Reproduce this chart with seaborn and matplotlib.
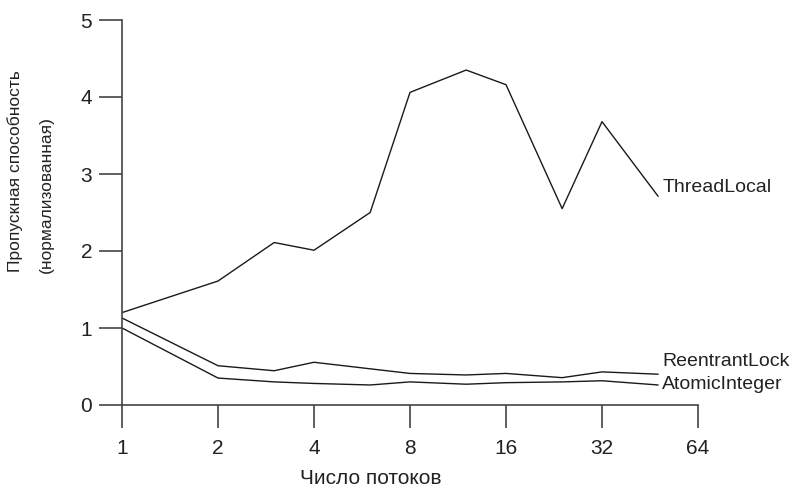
import pandas as pd
import seaborn as sns
import matplotlib
matplotlib.use('Agg')
import matplotlib.pyplot as plt

# values
threads = [1, 2, 3, 4, 6, 8, 12, 16, 24, 32, 48]
thread_local = [1.20, 1.61, 2.11, 2.01, 2.50, 4.06, 4.35, 4.16, 2.55, 3.68, 2.71]
reentrant_lock = [1.13, 0.51, 0.445, 0.555, 0.47, 0.41, 0.39, 0.41, 0.355, 0.43, 0.40]
atomic_integer = [1.00, 0.35, 0.30, 0.28, 0.26, 0.30, 0.27, 0.29, 0.30, 0.315, 0.26]
series_names = ['ThreadLocal', 'ReentrantLock', 'AtomicInteger']
x_ticks = [1, 2, 4, 8, 16, 32, 64]
y_ticks = [0, 1, 2, 3, 4, 5]

df = pd.DataFrame({
    'threads': threads * 3,
    'value': thread_local + reentrant_lock + atomic_integer,
    'series': [n for n in series_names for _ in threads],
})

sns.set_style('white')
plt.rcParams['font.family'] = ['Liberation Sans', 'DejaVu Sans']

fig = plt.figure(figsize=(7.92, 4.91), dpi=100)
ax = fig.add_axes([122 / 792, 1 - 405 / 491, 576 / 792, 385 / 491])

sns.lineplot(data=df, x='threads', y='value', hue='series',
             palette=['#1a1a1a'] * 3, linewidth=1.0, legend=False, ax=ax)

ax.set_xscale('log', base=2)
ax.set_xlim(1, 64)
ax.set_ylim(0, 5)
ax.set_xticks(x_ticks)
ax.set_xticklabels([str(t) for t in x_ticks])
ax.minorticks_off()
ax.set_yticks(y_ticks)
ax.set_xlabel('')
ax.set_ylabel('')

for s in ['top', 'right']:
    ax.spines[s].set_visible(False)
for s in ['left', 'bottom']:
    ax.spines[s].set_color('#444444')
    ax.spines[s].set_linewidth(1.2)

ax.tick_params(axis='both', direction='out', length=16.5, width=1.2,
               color='#444444', labelsize=15, labelcolor='#222222',
               bottom=True, left=True)
ax.tick_params(axis='x', pad=8)
ax.tick_params(axis='y', pad=5)

# labels at the line ends
last = {'ThreadLocal': thread_local[-1], 'ReentrantLock': reentrant_lock[-1],
        'AtomicInteger': atomic_integer[-1]}
offsets = {'ThreadLocal': 6, 'ReentrantLock': 9, 'AtomicInteger': 0}
for name in series_names:
    ax.annotate(name, xy=(threads[-1], last[name]), xytext=(3, offsets[name]),
                textcoords='offset points', ha='left', va='center',
                fontsize=14, color='#222222', annotation_clip=False)

fig.text(371 / 792, 1 - 479 / 491, 'Число потоков', ha='center', va='center',
         fontsize=15, color='#222222')
fig.text(15 / 792, 1 - 171 / 491, 'Пропускная способность', rotation=90,
         ha='center', va='center', fontsize=12.5, color='#222222')
fig.text(46 / 792, 1 - 195 / 491, '(нормализованная)', rotation=90,
         ha='center', va='center', fontsize=12.5, color='#222222')

fig.savefig('out.png', dpi=100)
